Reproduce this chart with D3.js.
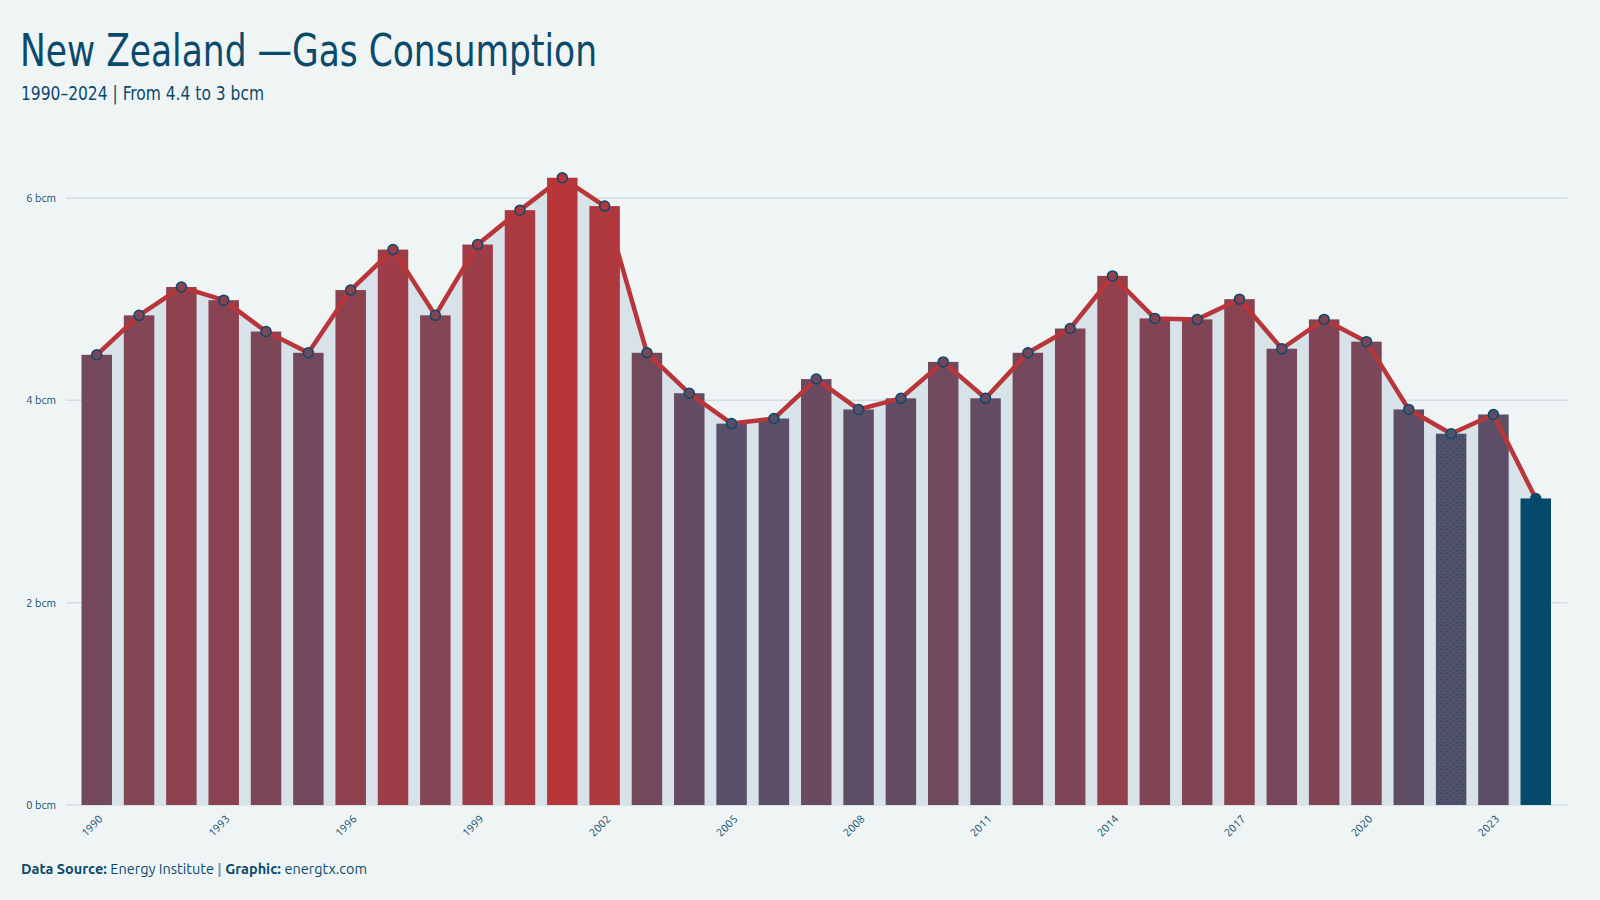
<!DOCTYPE html>
<html>
<head>
<meta charset="utf-8">
<script src="https://cdn.jsdelivr.net/npm/d3@7"></script>
<style>
  html, body { margin: 0; padding: 0; background: #eff5f5; }
  svg { display: block; }
</style>
</head>
<body>
<svg id="chart" width="1600" height="900"></svg>
<script>
const years = d3.range(1990, 2025);
const values = [4.45, 4.84, 5.12, 4.99, 4.68, 4.47, 5.09, 5.49, 4.84, 5.54,
                5.88, 6.20, 5.92, 4.47, 4.07, 3.77, 3.82, 4.21, 3.91, 4.02,
                4.38, 4.02, 4.47, 4.71, 5.23, 4.81, 4.80, 5.00, 4.51, 4.80,
                4.58, 3.91, 3.67, 3.86, 3.03];
const yTicks = [0, 2, 4, 6];
const xTickYears = [1990, 1993, 1996, 1999, 2002, 2005, 2008, 2011, 2014, 2017, 2020, 2023];

const data = years.map((y, i) => ({ year: y, value: values[i] }));
const svg = d3.select("#chart");
const titleFont = "'Ubuntu Condensed', 'DejaVu Sans Condensed', 'Liberation Sans Narrow', sans-serif";
const bodyFont = "Ubuntu, 'Noto Sans', 'Open Sans', sans-serif";
const navy = "#0b4a6b";

const x = d3.scaleBand().domain(years).range([81.5, 1551]).paddingInner(0.28).paddingOuter(0);
const y = d3.scaleLinear().domain([0, 6]).range([805, 198]);

const prev = data.slice(0, -1);
const minV = d3.min(prev, d => d.value), maxV = d3.max(prev, d => d.value);
const color = d3.scaleLinear().domain([minV, maxV]).range(["#55506a", "#b8363a"]);

// defs: dot pattern
const defs = svg.append("defs");
const last = data[data.length - 1];
const minD = prev.find(d => d.value === minV);
const pat = defs.append("pattern").attr("id", "dots").attr("patternUnits", "userSpaceOnUse")
  .attr("width", 6).attr("height", 6);
pat.append("rect").attr("width", 6).attr("height", 6).attr("fill", color(minV));
pat.append("circle").attr("cx", 1.5).attr("cy", 1.5).attr("r", 0.7).attr("fill", navy);
pat.append("circle").attr("cx", 4.5).attr("cy", 4.5).attr("r", 0.7).attr("fill", navy);

// Title
svg.append("text").attr("x", 20).attr("y", 66).text("New Zealand \u2014Gas Consumption")
  .attr("font-family", titleFont).attr("font-size", 45).attr("fill", navy)
  .attr("textLength", 577).attr("lengthAdjust", "spacingAndGlyphs");
svg.append("text").attr("x", 21).attr("y", 100).text("1990\u20132024 | From 4.4 to 3 bcm")
  .attr("font-family", titleFont).attr("font-size", 20).attr("fill", navy)
  .attr("textLength", 243).attr("lengthAdjust", "spacingAndGlyphs");

// grid
const g = svg.append("g");
g.selectAll(".grid").data(yTicks).join("line")
  .attr("x1", 66).attr("x2", 1567)
  .attr("y1", d => y(d)).attr("y2", d => y(d))
  .attr("stroke", "#d2dee3").attr("stroke-width", 1.5);
g.selectAll(".ylab").data(yTicks).join("text")
  .attr("x", 56).attr("y", d => y(d)).attr("dy", "0.35em")
  .attr("text-anchor", "end").text(d => d + " bcm")
  .attr("font-family", bodyFont).attr("font-size", 11).attr("fill", navy);

// area
const cx = d => x(d.year) + x.bandwidth() / 2;
const area = d3.area().x(cx).y0(y(0)).y1(d => y(d.value));
g.append("path").datum(data).attr("d", area).attr("fill", "#d7e3e8");

// bars
g.selectAll(".bar").data(data.slice(0, -1)).join("rect")
  .attr("x", d => x(d.year)).attr("width", x.bandwidth())
  .attr("y", d => y(d.value)).attr("height", d => y(0) - y(d.value))
  .attr("fill", d => d === minD ? "url(#dots)" : color(d.value));

// line
const line = d3.line().x(cx).y(d => y(d.value));
g.append("path").datum(data).attr("d", line).attr("fill", "none")
  .attr("stroke", "#b8363a").attr("stroke-width", 4.5).attr("stroke-linejoin", "round");

// dots
g.selectAll(".dot").data(data).join("circle")
  .attr("cx", cx).attr("cy", d => y(d.value)).attr("r", 5)
  .attr("fill", d => d === last ? navy : color(d.value))
  .attr("stroke", navy).attr("stroke-width", 1.5);

// last bar on top
g.append("rect").datum(last)
  .attr("x", d => x(d.year)).attr("width", x.bandwidth())
  .attr("y", d => y(d.value)).attr("height", d => y(0) - y(d.value))
  .attr("fill", "#054a6a");

// x axis labels
g.selectAll(".xlab").data(xTickYears).join("text")
  .attr("transform", d => `translate(${cx({year: d}) + 4},${y(0) + 12}) rotate(-45)`)
  .attr("text-anchor", "end").attr("dy", "0.35em").text(d => d)
  .attr("font-family", bodyFont).attr("font-size", 11).attr("fill", navy);

// footer
const foot = svg.append("text").attr("x", 21).attr("y", 874)
  .attr("font-family", bodyFont).attr("font-size", 14.5).attr("fill", navy);
foot.append("tspan").attr("font-weight", "bold").text("Data Source: ");
foot.append("tspan").text("Energy Institute ");
foot.append("tspan").attr("fill", "#7f98a6").attr("font-weight", "bold").text("| ");
foot.append("tspan").attr("font-weight", "bold").text("Graphic: ");
foot.append("tspan").text("energtx.com");
</script>
</body>
</html>
